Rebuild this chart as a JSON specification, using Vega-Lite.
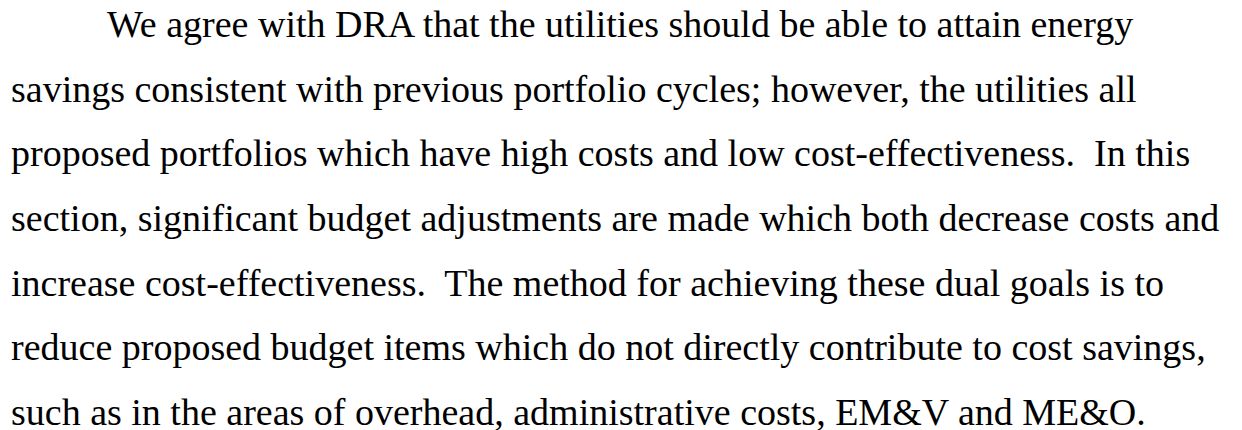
{
  "$schema": "https://vega.github.io/schema/vega-lite/v6.json",
  "width": 1242,
  "height": 430,
  "autosize": {"type": "fit", "contains": "padding"},
  "padding": 0,
  "background": "white",
  "config": {"view": {"stroke": null}},
  "data": {
    "values": [
      {"line": 1, "role": "first", "text": "We agree with DRA that the utilities should be able to attain energy"},
      {"line": 2, "role": "cont", "text": "savings consistent with previous portfolio cycles; however, the utilities all"},
      {"line": 3, "role": "cont", "text": "proposed portfolios which have high costs and low cost-effectiveness.\u00a0 In this"},
      {"line": 4, "role": "cont", "text": "section, significant budget adjustments are made which both decrease costs and"},
      {"line": 5, "role": "cont", "text": "increase cost-effectiveness.\u00a0 The method for achieving these dual goals is to"},
      {"line": 6, "role": "cont", "text": "reduce proposed budget items which do not directly contribute to cost savings,"},
      {"line": 7, "role": "cont", "text": "such as in the areas of overhead, administrative costs, EM&V and ME&O."}
    ]
  },
  "mark": {"type": "text", "align": "left", "baseline": "alphabetic", "font": "Liberation Serif", "fontSize": 38, "color": "black"},
  "encoding": {
    "x": {"field": "role", "type": "nominal", "scale": {"type": "point", "domain": ["cont", "first"], "range": [11, 107], "padding": 0}, "axis": null},
    "y": {"field": "line", "type": "quantitative", "scale": {"domain": [1, 7], "range": [37, 425], "zero": false}, "axis": null},
    "text": {"field": "text"}
  }
}
